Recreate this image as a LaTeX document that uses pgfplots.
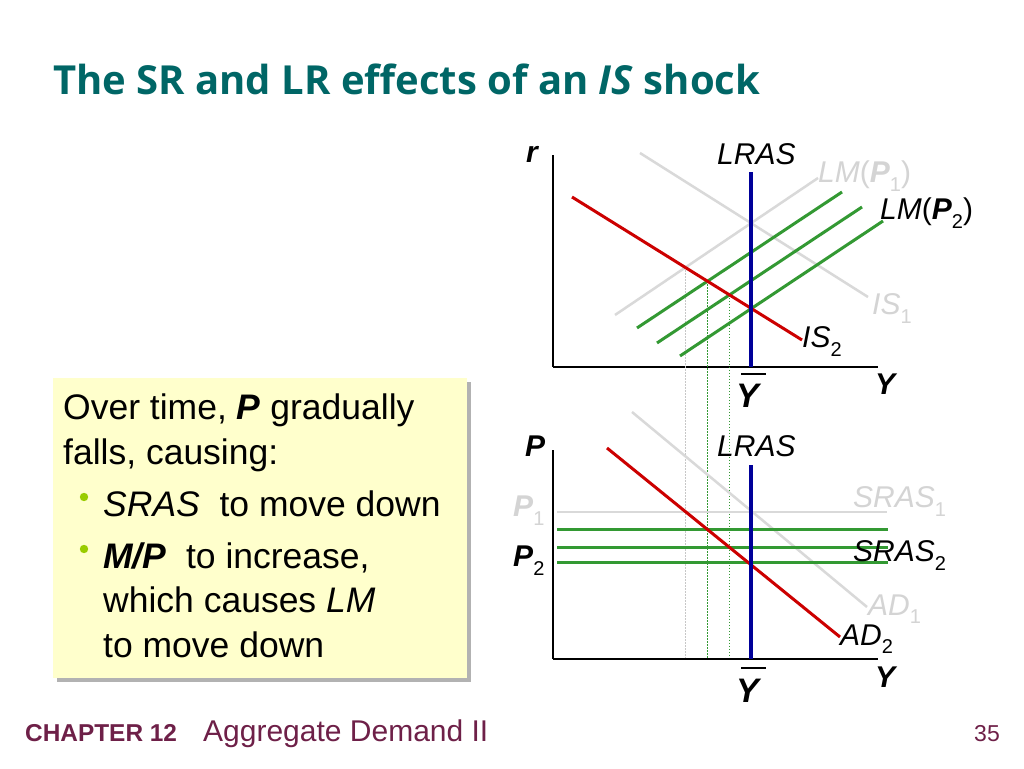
\documentclass[border=0pt]{standalone}
\usepackage{fontspec}
\setmainfont{Liberation Sans}
\newfontfamily\titlefont{Open Sans}
\usepackage{pgfplots}
\pgfplotsset{compat=1.18}

\definecolor{titleteal}{RGB}{0,102,102}
\definecolor{ecred}{RGB}{204,0,0}
\definecolor{ecgreen}{RGB}{51,153,51}
\definecolor{ecblue}{RGB}{0,0,153}
\definecolor{ecgray}{RGB}{217,217,217}
\definecolor{labgray}{RGB}{212,212,212}
\definecolor{footer}{RGB}{110,32,72}
\definecolor{note}{RGB}{255,255,204}
\definecolor{bulletgreen}{RGB}{153,204,0}

\newcommand\sub[1]{\raisebox{-0.28em}{\fontsize{20}{20}\selectfont\upshape #1}}
\newcommand\bi[1]{\textbf{\textit{#1}}}
% Y with a bar, bar set a little to the right as on the slide
\newcommand\ybar{\fontsize{34}{34}\selectfont
  \makebox[0pt][l]{\kern5pt\raisebox{33pt}{\rule{25pt}{1.8pt}}}\bi{Y}}

\pgfplotsset{
  diagram/.style={
    scale only axis,
    width=325pt,
    anchor=south west,
    xmin=0, xmax=325, ymin=0,
    axis lines=left,
    axis line style={-, line width=2pt, black},
    ticks=none,
    clip=false,
  },
}
\tikzset{
  lab/.style={anchor=base west, inner sep=0pt, font=\fontsize{30}{30}\selectfont},
  drop/.style={line width=1.4pt, dash pattern=on 1.4pt off 1.6pt},
}

\begin{document}
\begin{tikzpicture}[x=1pt, y=1pt]
  \fill[white] (0,0) rectangle (1024,768);

  % title
  \node[anchor=base west, inner sep=0pt, text=titleteal,
        font=\titlefont\bfseries\fontsize{40}{40}\selectfont]
    at (53,673) {The SR and LR effects of an \textit{IS} shock};

  % note box
  \fill[black!30] (57,86) rectangle (471,386);
  \fill[note] (53,90) rectangle (467,390);
  \begin{scope}[every node/.style={anchor=base west, inner sep=0pt,
        font=\fontsize{35.5}{35.5}\selectfont}]
    \node at (63,348) {Over time, \bi{P} gradually};
    \node at (63,303) {falls, causing:};
    \node at (103,251) {\textit{SRAS}\ \ to move down};
    \node at (103,199) {\bi{M/P}\ \ to increase,};
    \node at (103,155) {which causes \textit{LM}};
    \node at (103,111) {to move down};
  \end{scope}
  \fill[bulletgreen] (84,271) circle (4.2);
  \fill[bulletgreen] (84,219) circle (4.2);

  % footer
  \node[anchor=base west, inner sep=0pt, text=footer,
        font=\bfseries\fontsize{24.4}{24.4}\selectfont] at (25,27) {CHAPTER 12};
  \node[anchor=base west, inner sep=0pt, text=footer,
        font=\fontsize{30}{30}\selectfont] at (203,27) {Aggregate Demand II};
  \node[anchor=base east, inner sep=0pt, text=footer,
        font=\fontsize{23}{23}\selectfont] at (1000,27) {35};

  % IS-LM diagram
  \begin{axis}[diagram, at={(553pt,401pt)}, height=212pt, ymax=212]
    \addplot[ecgray, line width=2.5pt] coordinates {(87,214) (315,70)};
    \addplot[ecgray, line width=2.5pt] coordinates {(62,52) (265,189)};
    % dotted drop lines to the lower diagram
    \addplot[black!22, drop] coordinates {(132.4,99.5) (132.4,-292)};
    \addplot[ecgreen, drop] coordinates {(154.5,85.8) (154.5,-292)};
    \addplot[ecgreen, drop] coordinates {(176.5,72.1) (176.5,-292)};
    \addplot[ecgreen, line width=3pt] coordinates {(84,39) (289,175)};
    \addplot[ecgreen, line width=3pt] coordinates {(104,24) (309,160)};
    \addplot[ecgreen, line width=3pt] coordinates {(127,11) (330,146)};
    \addplot[ecred, line width=3pt] coordinates {(19,170) (249,27)};
    \addplot[ecblue, line width=3.5pt] coordinates {(198,0) (198,195)};

    \node[lab] at (-27,204) {\bi{r}};
    \node[lab] at (164,202) {\textit{LRAS}};
    \node[lab, text=labgray] at (265,184) {\textit{LM}(\bi{P}\sub{1})};
    \node[lab] at (327,147) {\textit{LM}(\bi{P}\sub{2})};
    \node[lab, text=labgray] at (319,52) {\textit{IS}\sub{1}};
    \node[lab] at (249,19) {\textit{IS}\sub{2}};
    \node[lab] at (322,-28) {\bi{Y}};
    \node[lab] at (183,-41) {\ybar};
  \end{axis}

  % AD-AS diagram
  \begin{axis}[diagram, at={(553pt,109pt)}, height=209pt, ymax=209]
    \addplot[ecgray, line width=2.5pt] coordinates {(4,147) (334,147)};
    \addplot[ecgray, line width=2.5pt] coordinates {(79,247) (314,52)};
    \addplot[ecgreen, line width=3pt] coordinates {(4,129) (335,129)};
    \addplot[ecgreen, line width=3pt] coordinates {(4,111) (335,111)};
    \addplot[ecgreen, line width=3pt] coordinates {(4,96) (335,96)};
    \addplot[ecred, line width=3pt] coordinates {(54,211) (287,22)};
    \addplot[ecblue, line width=3.5pt] coordinates {(198,0) (198,194)};

    \node[lab] at (-28,202) {\bi{P}};
    \node[lab] at (164,202) {\textit{LRAS}};
    \node[lab, text=labgray] at (-40,142) {\bi{P}\sub{1}};
    \node[lab] at (-40,92) {\bi{P}\sub{2}};
    \node[lab, text=labgray] at (300,151) {\textit{SRAS}\sub{1}};
    \node[lab] at (300,97) {\textit{SRAS}\sub{2}};
    \node[lab, text=labgray] at (315,44) {\textit{AD}\sub{1}};
    \node[lab] at (287,14) {\textit{AD}\sub{2}};
    \node[lab] at (322,-28) {\bi{Y}};
    \node[lab] at (183,-43) {\ybar};
  \end{axis}
\end{tikzpicture}
\end{document}
